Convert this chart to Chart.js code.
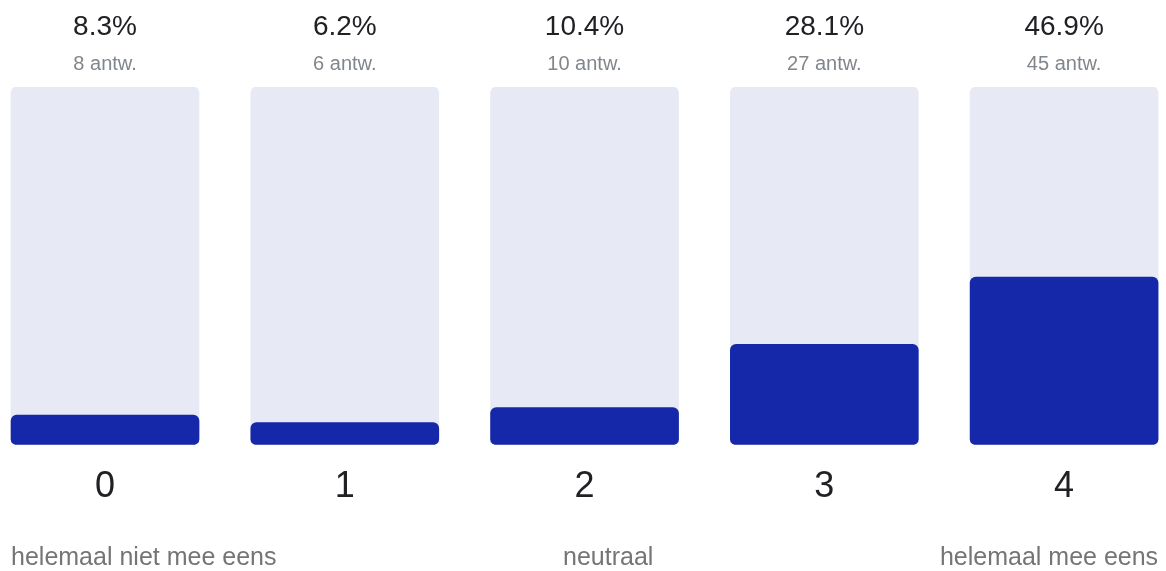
<!DOCTYPE html>
<html>
<head>
<meta charset="utf-8">
<script src="https://cdn.jsdelivr.net/npm/chart.js@4.4.1/dist/chart.umd.min.js"></script>
<style>
    html, body { margin: 0; padding: 0; background: #fff; overflow: hidden; }
    #wrap { width: 1166px; height: 571px; }
</style>
</head>
<body>
<div id="wrap"><canvas id="chartSchaal"></canvas></div>
<script>
/* =========================================================
   DATA
========================================================= */
const categories = ["0", "1", "2", "3", "4"];
const percentages = [8.3, 6.2, 10.4, 28.1, 46.9];
const answers = [8, 6, 10, 27, 45];
const fullScale = [100, 100, 100, 100, 100];
const scaleLabels = ["helemaal niet mee eens", "neutraal", "helemaal mee eens"];

const FONT = "'Liberation Sans', Arial, sans-serif";

/* =========================================================
   LABELS BOVEN DE BALKEN + SCHAALLABELS ONDERAAN
========================================================= */
const labelPlugin = {
    id: "labelPlugin",
    afterDraw(chart) {
        const c = chart.ctx;
        const area = chart.chartArea;
        const meta = chart.getDatasetMeta(1);

        c.save();
        c.textAlign = "center";
        c.textBaseline = "alphabetic";
        meta.data.forEach((bar, i) => {
            c.font = "28px " + FONT;
            c.fillStyle = "#202124";
            c.fillText(percentages[i].toFixed(1) + "%", bar.x, area.top - 52);

            c.font = "20px " + FONT;
            c.fillStyle = "#80868b";
            c.fillText(answers[i] + " antw.", bar.x, area.top - 17);
        });

        // schaallabels verdeeld zoals flex space-between
        const first = meta.data[0];
        const last = meta.data[meta.data.length - 1];
        const left = first.x - first.width / 2;
        const right = last.x + last.width / 2;
        c.font = "25px " + FONT;
        c.fillStyle = "#757575";
        c.textAlign = "left";
        const widths = scaleLabels.map(t => c.measureText(t).width);
        const gap = (right - left - widths.reduce((a, b) => a + b, 0)) / (scaleLabels.length - 1);
        let x = left;
        const y = chart.height - 6;
        scaleLabels.forEach((t, i) => {
            c.fillText(t, x, y);
            x += widths[i] + gap;
        });
        c.restore();
    }
};

/* =========================================================
   CHART.JS
========================================================= */
const canvas = document.getElementById("chartSchaal");

new Chart(canvas, {
    type: "bar",
    data: {
        datasets: [
            {
                label: "achtergrond",
                data: categories.map((c, i) => ({ x: i, y: fullScale[i] })),
                backgroundColor: "#e7e9f5",
                borderRadius: 6,
                borderSkipped: false,
                barThickness: 188,
                grouped: false,
                order: 2
            },
            {
                label: "percentage",
                data: categories.map((c, i) => ({ x: i, y: percentages[i] })),
                backgroundColor: "#1528a9",
                borderRadius: 6,
                borderSkipped: false,
                barThickness: 188,
                grouped: false,
                order: 1
            }
        ]
    },
    options: {
        responsive: true,
        maintainAspectRatio: false,
        animation: false,
        layout: {
            padding: { top: 87, bottom: 41, left: 0, right: 0 }
        },
        plugins: {
            legend: { display: false },
            tooltip: { enabled: false }
        },
        scales: {
            x: {
                type: "linear",
                offset: false,
                min: -0.438,
                max: 4.425,
                grid: { display: false, drawTicks: false },
                border: { display: false },
                ticks: {
                    stepSize: 1,
                    includeBounds: false,
                    padding: 21,
                    color: "#202124",
                    font: { family: FONT, size: 36 },
                    callback: v => categories[v]
                }
            },
            y: {
                display: false,
                min: 0,
                max: 100
            }
        }
    },
    plugins: [labelPlugin]
});
</script>
</body>
</html>
